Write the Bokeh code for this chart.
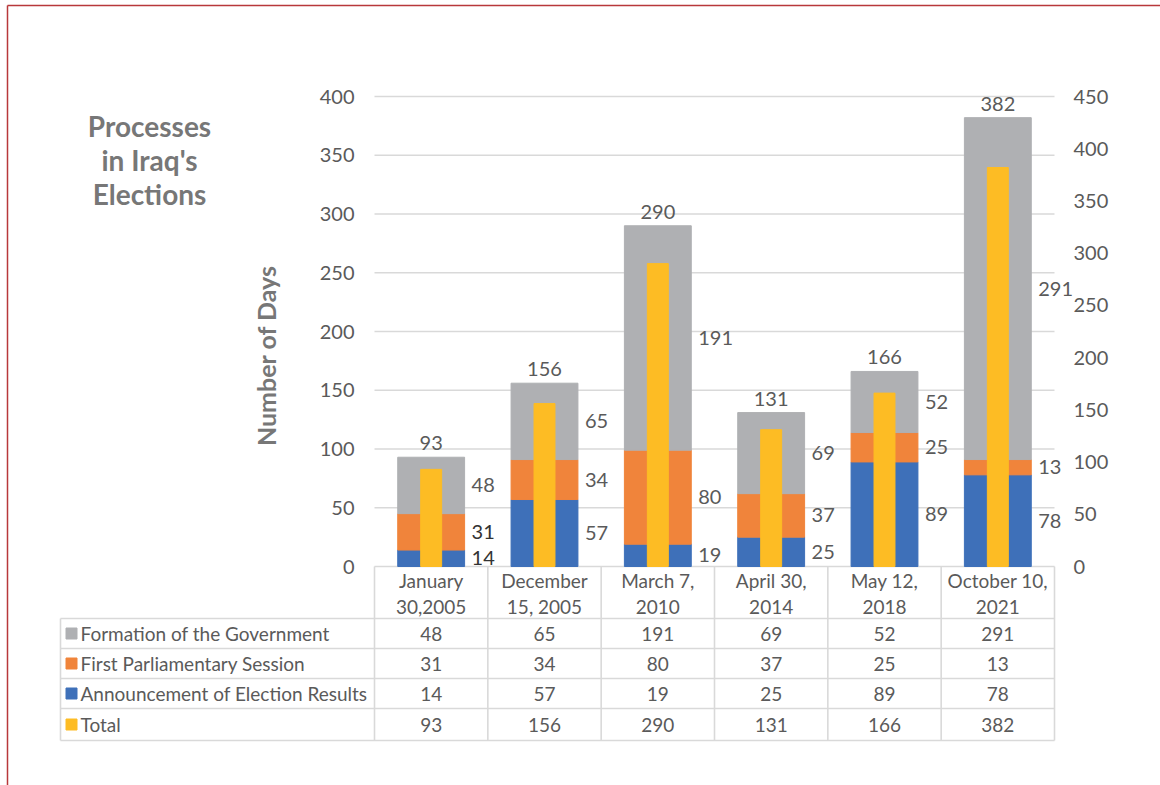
import math

from bokeh.core.properties import value
from bokeh.embed import file_html
from bokeh.models import ColumnDataSource, FixedTicker, LinearAxis, Range1d
from bokeh.plotting import figure
from bokeh.resources import INLINE

# ---- data -------------------------------------------------------------
categories = ["January\n30,2005", "December\n15, 2005", "March 7,\n2010",
              "April 30,\n2014", "May 12,\n2018", "October 10,\n2021"]
formation = [48, 65, 191, 69, 52, 291]
first_session = [31, 34, 80, 37, 25, 13]
announcement = [14, 57, 19, 25, 89, 78]
total = [93, 156, 290, 131, 166, 382]

series_names = ["Formation of the Government", "First Parliamentary Session",
                "Announcement of Election Results", "Total"]
left_ticks = [0, 50, 100, 150, 200, 250, 300, 350, 400]
right_ticks = [0, 50, 100, 150, 200, 250, 300, 350, 400, 450]
title_lines = ["Processes", "in Iraq's", "Elections"]
y_title = "Number of Days"

# ---- styling ----------------------------------------------------------
GREY, ORANGE, BLUE, YELLOW = "#afb0b3", "#f0843b", "#3e70b9", "#fdbc24"
TEXT = "#5a5a5a"
TITLE_C = "#777777"
RULE = "#d9d9d9"
FONT = "Lato"

# ---- page geometry (pixels) --------------------------------------------
W, H = 1160, 785
PLOT_L, PLOT_R = 374, 1054          # plot area, left/right
PLOT_B, PLOT_T = 566, 96            # baseline and top of the value axis
N = len(categories)
CW = (PLOT_R - PLOT_L) / N          # pixels per category
LEFT_MAX, RIGHT_MAX = left_ticks[-1], right_ticks[-1]
K_LEFT = (PLOT_B - PLOT_T) / LEFT_MAX
K_RIGHT = (PLOT_B - PLOT_T) / RIGHT_MAX
BAR_W = 0.59
TOTAL_W = 0.185


def xd(px):
    """page x pixel -> category units"""
    return (px - PLOT_L) / CW


def yd(py):
    """page y pixel -> days on the left scale"""
    return (PLOT_B - py) / K_LEFT


p = figure(width=W, height=H,
           x_range=Range1d(xd(0), xd(W)), y_range=Range1d(yd(H), yd(0)),
           x_axis_location=None, y_axis_location=None,
           output_backend="svg", toolbar_location=None,
           min_border=0, outline_line_color=None,
           background_fill_color="white", border_fill_color="white")
p.grid.visible = False
p.extra_y_ranges = {"total": Range1d((PLOT_B - H) / K_RIGHT, PLOT_B / K_RIGHT)}

xs = [i + 0.5 for i in range(N)]

# horizontal gridlines
p.segment(x0=0, x1=N, y0=left_ticks, y1=left_ticks, line_color=RULE, line_width=1.3)

# stacked process durations (left scale)
src = ColumnDataSource(dict(x=xs, announcement=announcement,
                            first_session=first_session, formation=formation,
                            total=total))
p.vbar_stack(["announcement", "first_session", "formation"], x="x", width=BAR_W,
             color=[BLUE, ORANGE, GREY], source=src)

# total (right scale)
p.vbar(x="x", top="total", width=TOTAL_W, y_range_name="total",
       color=YELLOW, source=src)

# segment value labels, right of each stack
seg_x, seg_y, seg_t, seg_c = [], [], [], []
for i in range(N):
    a, f, g = announcement[i], first_session[i], formation[i]
    for v, c in ((a, a / 2), (f, a + f / 2), (g, a + f + g / 2)):
        seg_x.append(xs[i] + BAR_W / 2 + 7 / CW)
        seg_y.append(c)
        seg_t.append(str(v))
        seg_c.append("#333333" if (i == 0 and v != g) else TEXT)
p.text(x=seg_x, y=seg_y, text=seg_t, text_color=seg_c,
       text_font=value(FONT), text_font_size="20px",
       text_align="left", text_baseline="middle")

# totals just above the stacks (14 px clearance)
p.text(x=xs, y=[t + 14 / K_LEFT for t in total], text=[str(t) for t in total],
       text_color=TEXT, text_font=value(FONT), text_font_size="20px",
       text_align="center", text_baseline="middle")

# value axes
yl = LinearAxis(fixed_location=0, ticker=FixedTicker(ticks=left_ticks),
                axis_line_color=None, major_tick_line_color=None,
                minor_tick_line_color=None, major_tick_in=0, major_tick_out=0,
                major_label_standoff=20, major_label_text_font=FONT,
                major_label_text_font_size="20px", major_label_text_color=TEXT)
p.add_layout(yl, "left")
yr = LinearAxis(y_range_name="total", fixed_location=N,
                ticker=FixedTicker(ticks=right_ticks),
                axis_line_color=None, major_tick_line_color=None,
                minor_tick_line_color=None, major_tick_in=0, major_tick_out=0,
                major_label_standoff=19, major_label_text_font=FONT,
                major_label_text_font_size="20px", major_label_text_color=TEXT)
p.add_layout(yr, "right")

# axis title and chart title
p.text(x=[xd(265)], y=[yd(355)], text=[y_title], angle=math.pi / 2,
       text_color=TITLE_C, text_font=value(FONT), text_font_style="bold",
       text_font_size="25px", text_align="center", text_baseline="middle")
p.text(x=[xd(149)] * len(title_lines), y=[yd(125), yd(159), yd(193)],
       text=title_lines, text_color=TITLE_C, text_font=value(FONT),
       text_font_style="bold", text_font_size="28px",
       text_align="center", text_baseline="middle")

# ---- data table under the chart ----------------------------------------
row_edges = [618, 648, 678, 708, 740]
row_mid = [(row_edges[k] + row_edges[k + 1]) / 2 for k in range(4)]
table_rows = [formation, first_session, announcement, total]
row_colors = [GREY, ORANGE, BLUE, YELLOW]

# rules
p.segment(x0=xd(60), x1=N, y0=[yd(e) for e in row_edges],
          y1=[yd(e) for e in row_edges], line_color=RULE, line_width=1.6)
p.segment(x0=[xd(60)] + list(range(N + 1)), x1=[xd(60)] + list(range(N + 1)),
          y0=[yd(618)] + [0] * (N + 1), y1=[yd(740)] * (N + 2),
          line_color=RULE, line_width=1.6)

# category header
p.text(x=xs, y=[yd(593)] * N, text=categories, text_color=TEXT,
       text_font=value(FONT), text_font_size="19px", text_line_height=1.1,
       text_align="center", text_baseline="middle")

# series keys and names
p.scatter(x=[xd(71)] * 4, y=[yd(m) for m in row_mid], marker="square",
          size=11, color=row_colors)
p.text(x=[xd(80)] * 4, y=[yd(m) for m in row_mid], text=series_names,
       text_color=TEXT, text_font=value(FONT), text_font_size="19px",
       text_align="left", text_baseline="middle")

# values
cell_x, cell_y, cell_t = [], [], []
for r, vals in enumerate(table_rows):
    for i, v in enumerate(vals):
        cell_x.append(xs[i])
        cell_y.append(yd(row_mid[r]))
        cell_t.append(str(v))
p.text(x=cell_x, y=cell_y, text=cell_t, text_color=TEXT,
       text_font=value(FONT), text_font_size="19px",
       text_align="center", text_baseline="middle")

# frame rule along the left and top edges
p.segment(x0=[xd(7), xd(7)], y0=[yd(5), yd(5)], x1=[xd(7), xd(W)],
          y1=[yd(H), yd(5)], line_color="#b8383b", line_width=1.5)

open("out.html", "w").write(file_html(p, INLINE))
